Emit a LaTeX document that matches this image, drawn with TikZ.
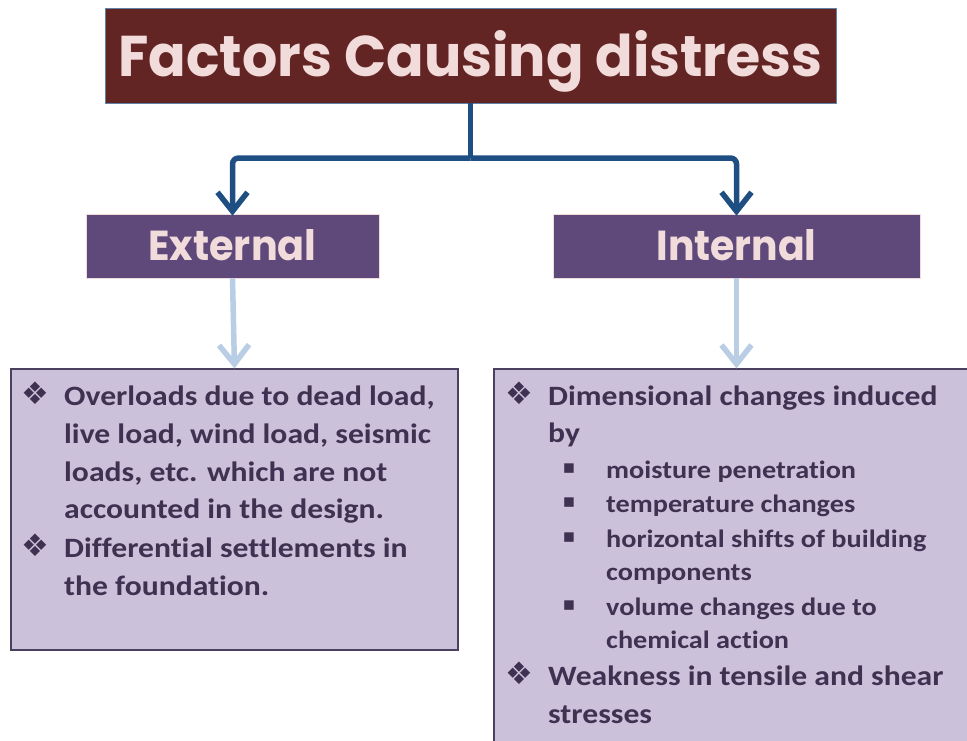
\documentclass[tikz,border=0pt]{standalone}
\usepackage{fontspec}
\setmainfont{Carlito}[FakeStretch=1.13, Ligatures=NoCommon]
\newfontfamily\titlefont{Poppins}
\newfontfamily\symfont{DejaVu Sans}
\usetikzlibrary{arrows.meta}
\definecolor{titlefill}{HTML}{632523}
\definecolor{titletext}{HTML}{F2DCDB}
\definecolor{connblue}{HTML}{1F4E82}
\definecolor{headfill}{HTML}{5F497A}
\definecolor{lightarr}{HTML}{B9CDE5}
\definecolor{boxfill}{HTML}{CCC1DA}
\definecolor{boxline}{HTML}{4A4060}
\definecolor{bodytext}{HTML}{3F3151}
\tikzset{
  titlebox/.style={fill=titlefill, draw=connblue!70, line width=0.8pt, inner sep=0pt,
    minimum width=731pt, text height=68pt, text depth=27pt, text=titletext, anchor=base},
  headbox/.style={fill=headfill, draw=titletext, line width=0.6pt, inner sep=0pt,
    text height=46pt, text depth=18pt, text=titletext, anchor=base},
  contentbox/.style={fill=boxfill, draw=boxline, line width=1.2pt, inner sep=0pt},
  darkconn/.style={draw=connblue, line width=5.5pt, rounded corners=6pt},
  darkarrow/.style={darkconn, -{Straight Barb[length=19pt,width=30pt]}},
  lightconn/.style={draw=lightarr, line width=5.5pt, -{Straight Barb[length=19pt,width=30pt]}},
  mainline/.style={anchor=base west, inner sep=0pt, text=bodytext, font=\fontsize{28}{30}\selectfont\bfseries},
  subline/.style={anchor=base west, inner sep=0pt, text=bodytext, font=\fontsize{25}{27}\selectfont\bfseries},
  diam/.style={anchor=center, inner sep=0pt, text=bodytext, font=\symfont\fontsize{31}{31}\selectfont},
  sq/.style={anchor=center, inner sep=0pt, text=bodytext, font=\symfont\fontsize{19}{19}\selectfont}
}
\begin{document}
\begin{tikzpicture}[x=1pt,y=-1pt]
\useasboundingbox (0,0) rectangle (967,740);
\clip (0,0) rectangle (967,740);
% title
\node[titlebox] (title) at (470.5,76) {\resizebox{704pt}{46pt}{\titlefont\bfseries Factors Causing distress}};
% heads
\node[headbox, minimum width=293pt] (ext) at (232.5,260) {\resizebox{168pt}{31pt}{\titlefont\bfseries External}};
\node[headbox, minimum width=367pt] (int) at (736.5,260) {\resizebox{160pt}{31pt}{\titlefont\bfseries Internal}};
% content boxes
\node[contentbox, minimum width=447pt, minimum height=281pt] (lbox) at (234.5,509.5) {};
\node[contentbox, minimum width=481pt, minimum height=381pt] (rbox) at (734.5,559.5) {};
% connectors
\coordinate (jn) at (470.5,158);
\draw[darkconn] (title.south) -- (jn);
\draw[darkarrow] (jn) -| ([yshift=-2pt]ext.north);
\draw[darkarrow] (jn) -| ([yshift=-2pt]int.north);
\draw[lightconn] (ext.south) -- (lbox.north);
\draw[lightconn] (int.south) -- (int.south |- rbox.north);
% left text
\node[diam] (lb1) at (35.5,393) {❖};
\node[mainline] (l1) at (64,405) {Overloads due to dead load,};
\node[mainline] (l2) at (64,443) {live load, wind load, seismic};
\node[mainline] (l3) at (64,481) {loads, etc. which are not};
\node[mainline] (l4) at (64,518) {accounted in the design.};
\node[diam] (lb2) at (35.5,545) {❖};
\node[mainline] (l5) at (64,557) {Differential settlements in};
\node[mainline] (l6) at (64,595) {the foundation.};
% right text
\node[diam] (rb1) at (519.5,393) {❖};
\node[mainline] (r1) at (548,405) {Dimensional changes induced};
\node[mainline] (r2) at (548,442) {by};
\node[sq] (sb1) at (569,469) {▪};
\node[subline] (s1) at (606,478) {moisture penetration};
\node[sq] (sb2) at (569,503) {▪};
\node[subline] (s2) at (606,512) {temperature changes};
\node[sq] (sb3) at (569,538) {▪};
\node[subline] (s3) at (606,547) {horizontal shifts of building};
\node[subline] (s4) at (606,580) {components};
\node[sq] (sb4) at (569,606) {▪};
\node[subline] (s5) at (606,615) {volume changes due to};
\node[subline] (s6) at (606,648) {chemical action};
\node[diam] (rb2) at (519.5,673) {❖};
\node[mainline] (r3) at (548,685) {Weakness in tensile and shear};
\node[mainline] (r4) at (548,723) {stresses};
\end{tikzpicture}
\end{document}
